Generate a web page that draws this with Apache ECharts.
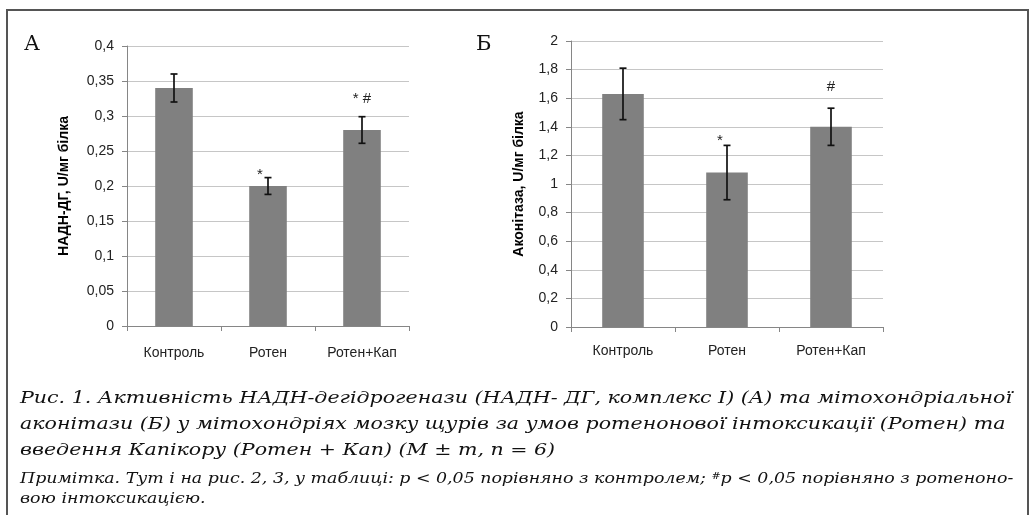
<!DOCTYPE html>
<html>
<head>
<meta charset="utf-8">
<script src="https://cdn.jsdelivr.net/npm/echarts@6.0.0/dist/echarts.min.js"></script>
<style>
  html, body { margin: 0; padding: 0; background: #fff; }
  #chart { width: 1030px; height: 515px; }
</style>
</head>
<body>
<div id="chart"></div>
<script>
// групи
const categories = ['Контроль', 'Ротен', 'Ротен+Кап']

// А: НАДН-ДГ, U/мг білка (M ± m)
const nadhValues = [0.34, 0.20, 0.28]
const nadhErrors = [0.02, 0.012, 0.019]
const nadhMarks = ['', '*', '* #']
const nadhTicks = [0, 0.05, 0.1, 0.15, 0.2, 0.25, 0.3, 0.35, 0.4]

// Б: Аконітаза, U/мг білка (M ± m)
const aconValues = [1.63, 1.08, 1.40]
const aconErrors = [0.18, 0.19, 0.13]
const aconMarks = ['', '*', '#']
const aconTicks = [0, 0.2, 0.4, 0.6, 0.8, 1, 1.2, 1.4, 1.6, 1.8, 2]

const captionLines = [
  'Рис. 1. Активність НАДН-дегідрогенази (НАДН- ДГ, комплекс I) (А) та мітохондріальної',
  'аконітази (Б) у мітохондріях мозку щурів за умов ротенонової інтоксикації (Ротен) та',
  'введення Капікору (Ротен + Кап) (M ± m, n = 6)'
]
const noteLines = [
  'Примітка. Тут і на рис. 2, 3, у таблиці: p < 0,05 порівняно з контролем; {sup|#}p < 0,05 порівняно з ротеноно-',
  'вою інтоксикацією.'
]

const sans = '"Liberation Sans", Arial, sans-serif'
const serif = '"DejaVu Serif", serif'
const fmt = v => String(v).replace('.', ',')

// зміщення позначок (*, #) відносно верхнього краю похибки, px
const nadhMarkShift = [[0, 0], [-8, -3], [0, -18]]
const aconMarkShift = [[0, 0], [-7, -5], [0, -21]]

function yAxisCfg(gridIndex, ticks, name, gap) {
  return {
    type: 'value', gridIndex,
    min: ticks[0], max: ticks[ticks.length - 1], interval: ticks[1] - ticks[0],
    name, nameLocation: 'middle', nameGap: gap, nameRotate: 90,
    nameTextStyle: { fontFamily: sans, fontWeight: 'bold', fontSize: 14, color: '#000' },
    axisLine: { show: true, lineStyle: { color: '#868686' } },
    axisTick: { show: true, length: 5, lineStyle: { color: '#868686' } },
    splitLine: { lineStyle: { color: '#c6c6c6' } },
    axisLabel: { fontFamily: sans, fontSize: 14, color: '#222', margin: 13, formatter: fmt }
  }
}

function xAxisCfg(gridIndex, margin) {
  return {
    type: 'category', gridIndex, data: categories,
    axisLine: { lineStyle: { color: '#868686' } },
    axisTick: { show: true, length: 5, lineStyle: { color: '#868686' } },
    axisLabel: { fontFamily: sans, fontSize: 14, color: '#222', margin }
  }
}

function errorSeries(idx, values, errors, marks, shift) {
  return {
    type: 'custom', xAxisIndex: idx, yAxisIndex: idx, z: 5,
    data: values.map((v, i) => [i, v, errors[i]]),
    renderItem(params, api) {
      const i = api.value(0), v = api.value(1), e = api.value(2)
      const top = api.coord([i, v + e])
      const bot = api.coord([i, v - e])
      const cap = 3.5
      const ls = { stroke: '#111', lineWidth: 1.7 }
      const children = [
        { type: 'line', shape: { x1: top[0], y1: top[1], x2: bot[0], y2: bot[1] }, style: ls },
        { type: 'line', shape: { x1: top[0] - cap, y1: top[1], x2: top[0] + cap, y2: top[1] }, style: ls },
        { type: 'line', shape: { x1: bot[0] - cap, y1: bot[1], x2: bot[0] + cap, y2: bot[1] }, style: ls }
      ]
      if (marks[i]) {
        children.push({
          type: 'text',
          style: {
            text: marks[i], x: top[0] + shift[i][0], y: top[1] + shift[i][1],
            align: 'center', verticalAlign: 'middle',
            font: '15px ' + sans, fill: '#222'
          }
        })
      }
      return { type: 'group', children }
    }
  }
}

const chart = echarts.init(document.getElementById('chart'))
chart.setOption({
  animation: false,
  backgroundColor: '#fff',
  grid: [
    { left: 127, top: 46, width: 282, height: 280 },
    { left: 571, top: 41, width: 312, height: 286 }
  ],
  xAxis: [xAxisCfg(0, 20), xAxisCfg(1, 17)],
  yAxis: [
    yAxisCfg(0, nadhTicks, 'НАДН-ДГ, U/мг білка', 56),
    yAxisCfg(1, aconTicks, 'Аконітаза, U/мг білка', 45)
  ],
  series: [
    { type: 'bar', xAxisIndex: 0, yAxisIndex: 0, data: nadhValues, barWidth: '40%', itemStyle: { color: '#808080' } },
    errorSeries(0, nadhValues, nadhErrors, nadhMarks, nadhMarkShift),
    { type: 'bar', xAxisIndex: 1, yAxisIndex: 1, data: aconValues, barWidth: '40%', itemStyle: { color: '#808080' } },
    errorSeries(1, aconValues, aconErrors, aconMarks, aconMarkShift)
  ],
  graphic: [
    // рамка
    { type: 'rect', shape: { x: 7, y: 10, width: 1021, height: 520 }, style: { fill: 'none', stroke: '#555', lineWidth: 2 }, silent: true },
    { type: 'text', x: 24, y: 34, style: { text: 'А', font: '21px ' + serif, fill: '#111' } },
    { type: 'text', x: 476, y: 34, style: { text: 'Б', font: '21px ' + serif, fill: '#111' } },
    // підпис, трохи розтягнутий по горизонталі як в оригіналі
    ...captionLines.map((t, k) => ({
      type: 'text', x: 20, y: 389 + k * 26, scaleX: 1.175,
      style: { text: t, font: 'italic 17.5px ' + serif, fill: '#111' }
    })),
    ...noteLines.map((t, k) => ({
      type: 'text', x: 20, y: 472 + k * 20, scaleX: 1.215,
      style: {
        text: t, font: 'italic 14.3px ' + serif, fill: '#111',
        rich: { sup: { font: 'italic 9px ' + serif, verticalAlign: 'top', padding: [0, 0, 6, 0] } }
      }
    }))
  ]
})
</script>
</body>
</html>
